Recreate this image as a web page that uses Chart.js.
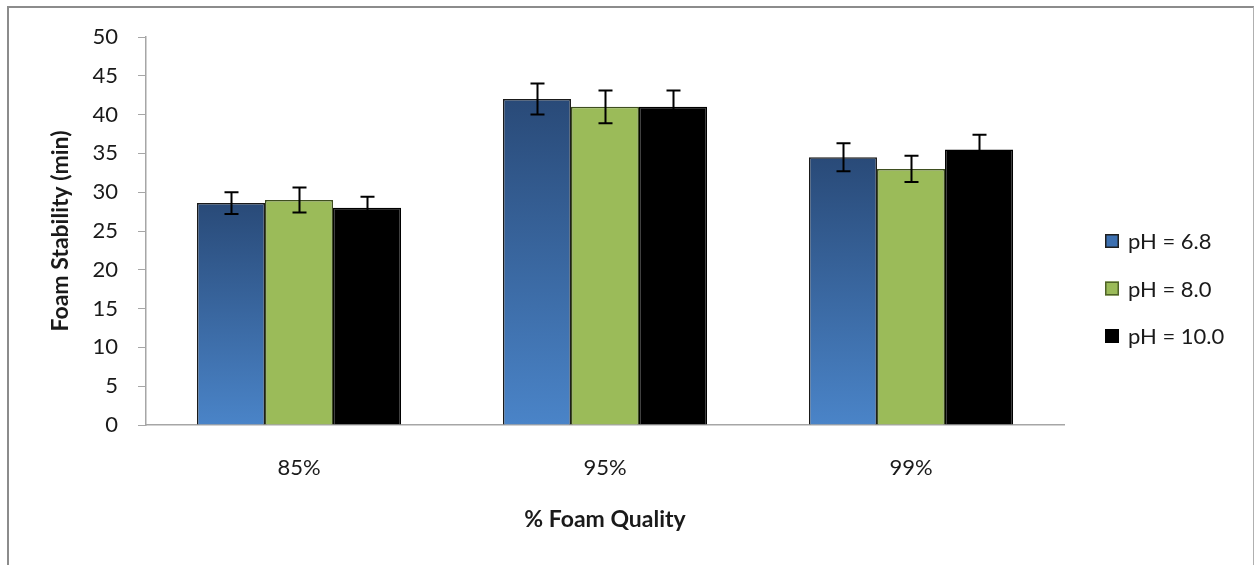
<!DOCTYPE html>
<html>
<head>
<meta charset="utf-8">
<script src="https://cdn.jsdelivr.net/npm/chart.js@4/dist/chart.umd.min.js"></script>
<style>
  html, body { margin: 0; padding: 0; background: #fff; }
  #wrap { position: relative; width: 1257px; height: 565px; }
  #frame { position: absolute; left: 7px; top: 6px; width: 1247px; height: 570px;
           border-left: 2px solid #8c8c8c; border-top: 2px solid #8c8c8c; border-right: 1px solid #b0b0b0; box-sizing: border-box; pointer-events: none; }
  canvas { position: absolute; left: 0; top: 0; }
</style>
</head>
<body>
<div id="wrap">
  <canvas id="c" width="1257" height="565"></canvas>
  <div id="frame"></div>
</div>
<script>
// ---- data ----
const categories = ['85%', '95%', '99%'];
const seriesLabels = ['pH = 6.8', 'pH = 8.0', 'pH = 10.0'];
const ph68 = [28.6, 42, 34.5];
const ph68Err = [1.4, 2.0, 1.8];
const ph80 = [29, 41, 33];
const ph80Err = [1.6, 2.1, 1.7];
const ph100 = [28, 41, 35.5];
const ph100Err = [1.4, 2.1, 1.9];
const yMin = 0, yMax = 50, yStep = 5;
const xTitle = '% Foam Quality';
const yTitle = 'Foam Stability (min)';

const FONT = 'Lato, "Open Sans", sans-serif';
const TXT = '#1a1a1a';

function blueGradient(context) {
  const chart = context.chart;
  const area = chart.chartArea;
  if (!area) return '#3f73b5';
  const yScale = chart.scales.y;
  const v = context.raw;
  const top = yScale.getPixelForValue(v);
  const bottom = yScale.getPixelForValue(0);
  if (!isFinite(top) || bottom - top < 1) return '#3f73b5';
  const g = chart.ctx.createLinearGradient(0, top, 0, bottom);
  g.addColorStop(0, '#294a78');
  g.addColorStop(1, '#4a84c8');
  return g;
}

const errorBarPlugin = {
  id: 'errorBars',
  afterDatasetsDraw(chart) {
    const ctx = chart.ctx;
    const y = chart.scales.y;
    ctx.save();
    ctx.strokeStyle = '#000';
    ctx.lineWidth = 2;
    chart.data.datasets.forEach((ds, di) => {
      const meta = chart.getDatasetMeta(di);
      meta.data.forEach((bar, i) => {
        const v = ds.data[i], e = ds.errors[i];
        const x = Math.round(bar.x) + 0.5;
        const yt = y.getPixelForValue(v + e);
        const yb = y.getPixelForValue(v - e);
        const cap = 7;
        ctx.beginPath();
        ctx.moveTo(x, yt); ctx.lineTo(x, yb);
        ctx.moveTo(x - cap, yt); ctx.lineTo(x + cap, yt);
        ctx.moveTo(x - cap, yb); ctx.lineTo(x + cap, yb);
        ctx.stroke();
      });
    });
    ctx.restore();
  }
};

const legendPlugin = {
  id: 'customLegend',
  afterDraw(chart) {
    const ctx = chart.ctx;
    const fills = ['#3d70b0', '#9bbb59', '#000000'];
    const strokes = ['#1f1f1f', '#4f6228', '#000000'];
    const x0 = 1105, yc0 = 241, step = 47.5, box = 14;
    ctx.save();
    ctx.font = '22px ' + FONT;
    ctx.textBaseline = 'middle';
    ctx.textAlign = 'left';
    seriesLabels.forEach((lbl, i) => {
      const yc = yc0 + i * step;
      ctx.fillStyle = fills[i];
      ctx.fillRect(x0, yc - box / 2, box, box);
      ctx.strokeStyle = strokes[i];
      ctx.lineWidth = 1.5;
      ctx.strokeRect(x0 + 0.75, yc - box / 2 + 0.75, box - 1.5, box - 1.5);
      ctx.fillStyle = TXT;
      ctx.fillText(lbl, x0 + 23, yc + 1);
    });
    ctx.restore();
  }
};

new Chart(document.getElementById('c'), {
  type: 'bar',
  data: {
    labels: categories,
    datasets: [
      { label: seriesLabels[0], data: ph68, errors: ph68Err, backgroundColor: blueGradient, borderColor: '#1a1a1a', borderWidth: 1.5 },
      { label: seriesLabels[1], data: ph80, errors: ph80Err, backgroundColor: '#9bbb59', borderColor: '#3e4e1f', borderWidth: 1.5 },
      { label: seriesLabels[2], data: ph100, errors: ph100Err, backgroundColor: '#000000', borderColor: '#000000', borderWidth: 1.5 }
    ]
  },
  options: {
    responsive: false,
    animation: false,
    devicePixelRatio: 1,
    layout: { padding: { left: 0, top: 37, right: 193, bottom: 0 } },
    datasets: { bar: { categoryPercentage: 0.667, barPercentage: 1.0 } },
    plugins: { legend: { display: false }, tooltip: { enabled: false } },
    scales: {
      x: {
        grid: { display: false, drawTicks: false },
        border: { display: true, color: '#a6a6a6', width: 1.5 },
        ticks: { color: TXT, font: { family: FONT, size: 22 }, padding: 30 },
        title: { display: true, text: xTitle, color: TXT, font: { family: FONT, size: 23, weight: 'bold' }, padding: { top: 0, bottom: 32 } },
        afterFit(scale) { scale.height = 140; }
      },
      y: {
        min: yMin, max: yMax,
        grid: { drawOnChartArea: false, drawTicks: true, tickLength: 8, color: '#a6a6a6' },
        border: { display: true, color: '#a6a6a6', width: 1.5 },
        ticks: { stepSize: yStep, color: TXT, font: { family: FONT, size: 22 }, padding: 20 },
        title: { display: true, text: yTitle, color: TXT, font: { family: FONT, size: 23, weight: 'bold' }, padding: { top: 47, bottom: 0 } },
        afterFit(scale) { scale.width = 146; }
      }
    }
  },
  plugins: [errorBarPlugin, legendPlugin]
});
</script>
</body>
</html>
